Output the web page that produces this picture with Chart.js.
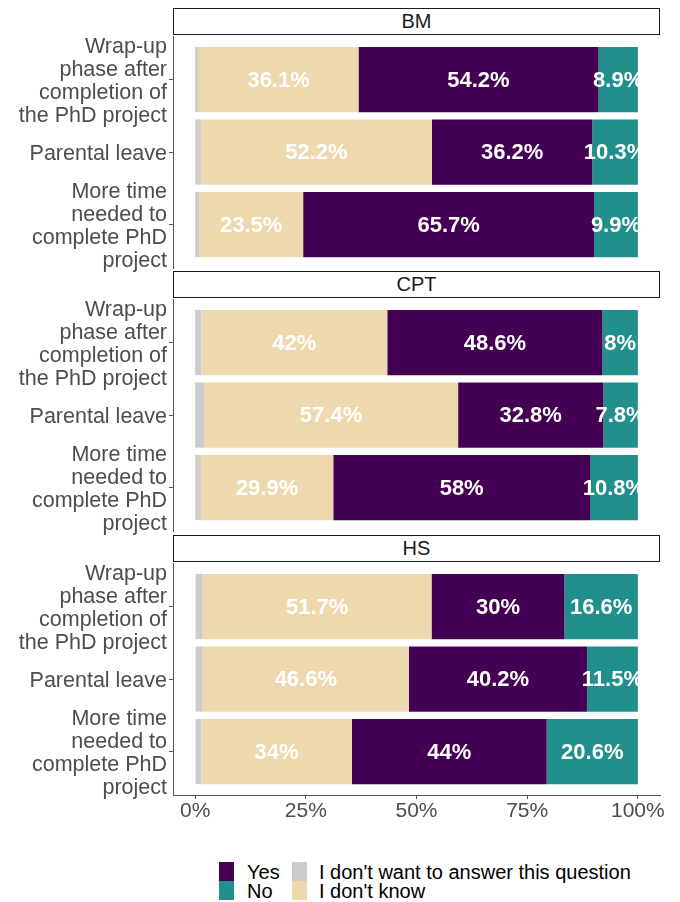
<!DOCTYPE html>
<html><head><meta charset="utf-8">
<script src="https://cdn.jsdelivr.net/npm/chart.js@4.4.1/dist/chart.umd.min.js"></script>
<style>
body{margin:0;background:#fff;}
#wrap{position:relative;width:680px;height:902px;overflow:hidden;font-family:'Liberation Sans',Arial,sans-serif;}
.strip{position:absolute;left:173px;width:487px;height:27px;box-sizing:border-box;border:1px solid #1a1a1a;background:#fff;color:#1a1a1a;font-size:20px;line-height:25px;text-align:center;}
canvas{position:absolute;left:0;}
.key{position:absolute;width:15px;height:19px;}
.ltxt{position:absolute;font-size:20px;color:#000;line-height:20px;white-space:nowrap;}
</style></head>
<body><div id="wrap"></div>
<script>
// ---- data ----
const facets = ['BM', 'CPT', 'HS'];
const categories = [
  ['Wrap-up', 'phase after', 'completion of', 'the PhD project'],
  ['Parental leave'],
  ['More time', 'needed to', 'complete PhD', 'project']
];
const seriesNames = ["I don't want to answer this question", "I don't know", 'Yes', 'No'];
// values per facet, per category (in %)
const noAnswerVals = [[0.8, 1.3, 0.9], [1.4, 2.0, 1.3], [1.7, 1.7, 1.4]];
const dontKnowVals = [[36.1, 52.2, 23.5], [42, 57.4, 29.9], [51.7, 46.6, 34]];
const yesVals = [[54.2, 36.2, 65.7], [48.6, 32.8, 58], [30, 40.2, 44]];
const noVals = [[8.9, 10.3, 9.9], [8, 7.8, 10.8], [16.6, 11.5, 20.6]];
const xTicks = [0, 25, 50, 75, 100];

const colors = ['#CCCCCC', '#EED8AE', '#440154', '#21908C'];
const FONT = "'Liberation Sans', Arial, sans-serif";

const stripTops = [8, 271, 535];
const panelTops = [36, 299, 563];
const panelH = 232;
const PADV = 16;
const XAXIS_H = 40;

const wrap = document.getElementById('wrap');

const labelPlugin = {
  id: 'segLabels',
  afterDatasetsDraw(chart) {
    const ctx = chart.ctx;
    ctx.save();
    ctx.font = 'bold 22px ' + FONT;
    ctx.fillStyle = '#ffffff';
    ctx.textAlign = 'center';
    ctx.textBaseline = 'middle';
    chart.data.datasets.forEach((ds, di) => {
      if (!ds.showLabels) return;
      const meta = chart.getDatasetMeta(di);
      meta.data.forEach((el, i) => {
        const p = el.getProps(['x', 'base', 'y'], true);
        ctx.fillText(ds.data[i].x + '%', (p.x + p.base) / 2, p.y + 1);
      });
    });
    ctx.restore();
  }
};

facets.forEach((f, fi) => {
  const strip = document.createElement('div');
  strip.className = 'strip';
  strip.style.top = stripTops[fi] + 'px';
  strip.textContent = f;
  wrap.appendChild(strip);

  const last = fi === facets.length - 1;
  const cv = document.createElement('canvas');
  const h = PADV + panelH + (last ? XAXIS_H : PADV);
  cv.width = 680; cv.height = h;
  cv.style.top = (panelTops[fi] - PADV) + 'px';
  cv.style.width = '680px'; cv.style.height = h + 'px';
  wrap.appendChild(cv);

  const sets = [noAnswerVals, dontKnowVals, yesVals, noVals];
  const datasets = sets.map((arr, si) => ({
    label: seriesNames[si],
    data: arr[fi].map((v, ci) => ({ x: v, y: ci + 1 })),
    backgroundColor: colors[si],
    borderWidth: 0,
    barPercentage: 0.9,
    categoryPercentage: 1.0,
    showLabels: si > 0
  }));

  new Chart(cv, {
    type: 'bar',
    data: { datasets },
    options: {
      indexAxis: 'y',
      responsive: false,
      animation: false,
      devicePixelRatio: 1,
      layout: { padding: { left: 0, right: 20, top: PADV, bottom: last ? 0 : PADV } },
      plugins: { legend: { display: false }, tooltip: { enabled: false } },
      scales: {
        x: {
          type: 'linear', stacked: true, min: -5, max: 105, offset: false,
          display: last,
          afterBuildTicks: s => { s.ticks = xTicks.map(v => ({ value: v })); },
          afterFit: s => { s.height = last ? XAXIS_H : 0; s.paddingLeft = 0; s.paddingRight = 0; },
          grid: { display: true, offset: false, drawOnChartArea: false, drawTicks: true, tickLength: 4, color: '#555555' },
          border: { display: true, color: '#555555', width: 1 },
          ticks: { autoSkip: false, color: '#4d4d4d', font: { family: FONT, size: 21 }, padding: 0, callback: v => v + '%', maxRotation: 0 }
        },
        y: {
          type: 'linear', stacked: true, min: 0.4, max: 3.6, reverse: true, offset: false,
          afterBuildTicks: s => { s.ticks = [1, 2, 3].map(v => ({ value: v })); },
          afterFit: s => { s.width = 173; s.paddingTop = 0; s.paddingBottom = 0; },
          grid: { display: true, offset: false, drawOnChartArea: false, drawTicks: true, tickLength: 4, color: '#555555' },
          border: { display: true, color: '#555555', width: 1 },
          ticks: { autoSkip: false, color: '#4d4d4d', font: { family: FONT, size: 21.5, lineHeight: 1.08 }, padding: 2, labelOffset: 2, callback: v => categories[v - 1] }
        }
      }
    },
    plugins: [labelPlugin]
  });
});

// legend (HTML)
const legendItems = [
  { i: 2, x: 219, y: 862, tx: 247 },
  { i: 3, x: 219, y: 881, tx: 247 },
  { i: 0, x: 292, y: 862, tx: 319 },
  { i: 1, x: 292, y: 881, tx: 319 }
];
legendItems.forEach(it => {
  const k = document.createElement('div');
  k.className = 'key';
  k.style.left = it.x + 'px'; k.style.top = it.y + 'px';
  k.style.background = colors[it.i];
  wrap.appendChild(k);
  const t = document.createElement('div');
  t.className = 'ltxt';
  t.style.left = it.tx + 'px'; t.style.top = (it.y + 0) + 'px';
  t.textContent = seriesNames[it.i];
  wrap.appendChild(t);
});
</script>
</body></html>
